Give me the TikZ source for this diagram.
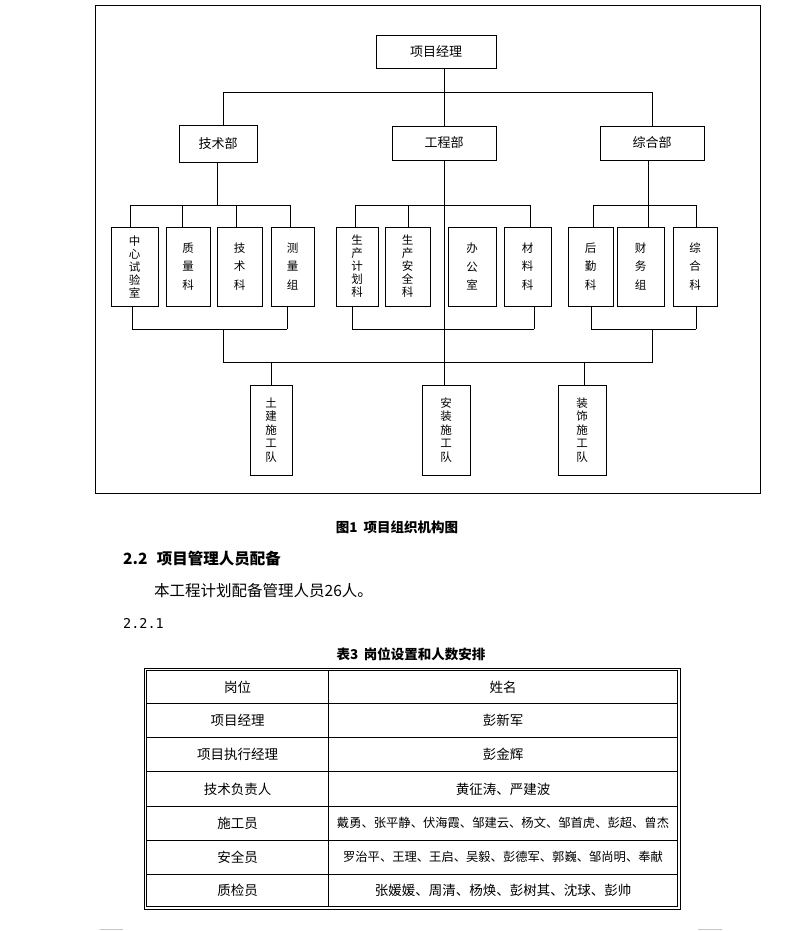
\documentclass[tikz,border=0pt]{standalone}
\usepackage{fontspec}
\setmainfont{Noto Sans CJK SC}
\newfontfamily\numfont{DejaVu Sans Mono}
\usetikzlibrary{calc}
\begin{document}
\begin{tikzpicture}[x=1pt,y=-1pt,
  every node/.style={inner sep=0pt},
  ln/.style={line width=0.9pt},
  box/.style={draw, line width=0.9pt, align=center, font=\fontsize{13}{14}\selectfont},
  vfive/.style={box, minimum height=79pt, font=\fontsize{11.5}{13}\selectfont},
  vthree/.style={box, minimum height=79pt, font=\fontsize{11.5}{18.5}\selectfont},
  team/.style={box, minimum height=90pt, font=\fontsize{11.5}{13.5}\selectfont},
  cell/.style={font=\fontsize{13.5}{15}\selectfont},
  cellsm/.style={font=\fontsize{12.3}{14}\selectfont},
  captxt/.style={font=\bfseries\fontsize{13.5}{15}\selectfont},
]
\useasboundingbox (0,0) rectangle (793,931);
\draw[ln] (95,5) rectangle (760,493);

% top level
\node[box, minimum width=120pt, minimum height=33pt] (pm) at (436,51.5) {项目经理};
\node[box, minimum width=78pt, minimum height=37pt] (jsb) at (218,143.5) {技术部};
\node[box, minimum width=104pt, minimum height=34pt] (gcb) at (444,143) {工程部};
\node[box, minimum width=104pt, minimum height=34pt] (zhb) at (652,143) {综合部};

% second level
\node[vfive, minimum width=47pt] (s1) at (134.5,266.5) {中\\心\\试\\验\\室};
\node[vthree, minimum width=44pt] (s2) at (188,266.5) {质\\量\\科};
\node[vthree, minimum width=45pt] (s3) at (239.5,266.5) {技\\术\\科};
\node[vthree, minimum width=43pt] (s4) at (292.5,266.5) {测\\量\\组};
\node[vfive, minimum width=42pt] (s5) at (357,266.5) {生\\产\\计\\划\\科};
\node[vfive, minimum width=45pt] (s6) at (407.5,266.5) {生\\产\\安\\全\\科};
\node[vthree, minimum width=48pt] (s7) at (472,266.5) {办\\公\\室};
\node[vthree, minimum width=47pt] (s8) at (527.5,266.5) {材\\料\\科};
\node[vthree, minimum width=45pt] (s9) at (590.5,266.5) {后\\勤\\科};
\node[vthree, minimum width=47pt] (s10) at (640.5,266.5) {财\\务\\组};
\node[vthree, minimum width=44pt] (s11) at (695,266.5) {综\\合\\科};

% teams
\node[team, minimum width=42pt] (t1) at (271,430) {土\\建\\施\\工\\队};
\node[team, minimum width=48pt] (t2) at (446,430) {安\\装\\施\\工\\队};
\node[team, minimum width=48pt] (t3) at (582,430) {装\\饰\\施\\工\\队};

% connectors top
\coordinate (trunk) at (444,0);
\draw[ln] (pm.south -| trunk) -- (gcb.north);
\draw[ln] (223,92) -- (652,92);
\draw[ln] (223,92) -- (jsb.north -| 223,0);
\draw[ln] (652,92) -- (zhb.north -| 652,0);

% tech group
\draw[ln] (jsb.south -| 217,0) -- (217,205);
\draw[ln] (130,205) -- (290,205);
\foreach \x/\n in {130/s1,182/s2,236/s3,290/s4} \draw[ln] (\x,205) -- (\n.north -| \x,0);
% eng group
\draw[ln] (gcb.south) -- (t2.north -| trunk);
\draw[ln] (355,205) -- (530,205);
\foreach \x/\n in {355/s5,408/s6,530/s8} \draw[ln] (\x,205) -- (\n.north -| \x,0);
% general group
\draw[ln] (zhb.south -| 648,0) -- (s10.north -| 648,0);
\draw[ln] (593,205) -- (696,205);
\foreach \x/\n in {593/s9,696/s11} \draw[ln] (\x,205) -- (\n.north -| \x,0);

% bottom buses
\foreach \x/\n in {132/s1,287/s4,352/s5,534/s8,591/s9,696/s11} \draw[ln] (\n.south -| \x,0) -- (\x,329);
\draw[ln] (132,329) -- (287,329);
\draw[ln] (352,329) -- (534,329);
\draw[ln] (591,329) -- (696,329);
\draw[ln] (223,329) -- (223,362) -- (652,362) -- (652,329);
\draw[ln] (271.5,362) -- (t1.north -| 271.5,0);
\draw[ln] (584,362) -- (t3.north -| 584,0);

% text
\node[captxt] (fig) at (397,527) {图1\hspace{0.45em}项目组织机构图};
\node[anchor=west, font=\bfseries\fontsize{15.5}{17}\selectfont] (h22) at (123,559) {2.2\hspace{0.6em}项目管理人员配备};
\node[anchor=west, font=\fontsize{15.5}{17}\selectfont] (body) at (154,590.5) {本工程计划配备管理人员26人。};
\node[anchor=west, font=\numfont\fontsize{13.5}{15}\selectfont] (h221) at (123,623) {2.2.1};
\node[captxt] (tcap) at (411,654) {表3\hspace{0.4em}岗位设置和人数安排};

% table
\draw[line width=0.9pt] (144,668) rectangle (680,909);
\draw[line width=0.9pt] (146.5,670.5) rectangle (677.5,906.5);
\draw[line width=0.9pt] (328.5,670.5) -- (328.5,906.5);
\foreach \y in {703.5,737.5,771.5,806,840,874} \draw[line width=0.9pt] (146.5,\y) -- (677.5,\y);

\node[cell] (a1) at (237.5,687) {岗位};
\node[cell] (b1) at (503,687) {姓名};
\node[cell] (a2) at (237.5,720.5) {项目经理};
\node[cell] (b2) at (503,720.5) {彭新军};
\node[cell] (a3) at (237.5,754.5) {项目执行经理};
\node[cell] (b3) at (503,754.5) {彭金辉};
\node[cell] (a4) at (237.5,789) {技术负责人};
\node[cell] (b4) at (503,789) {黄征涛、严建波};
\node[cell] (a5) at (237.5,823) {施工员};
\node[cellsm] (b5) at (503,823) {戴勇、张平静、伏海霞、邹建云、杨文、邹首虎、彭超、曾杰};
\node[cell] (a6) at (237.5,857) {安全员};
\node[cellsm] (b6) at (503,857) {罗治平、王理、王启、吴毅、彭德军、郭巍、邹尚明、奉献};
\node[cell] (a7) at (237.5,890.5) {质检员};
\node[cell] (b7) at (503,890.5) {张媛媛、周清、杨焕、彭树其、沈球、彭帅};

% page corner marks
\draw[line width=1pt, gray!45] (100,929) -- (123,929);
\draw[line width=1pt, gray!45] (698,929) -- (722,929);
\end{tikzpicture}
\end{document}
